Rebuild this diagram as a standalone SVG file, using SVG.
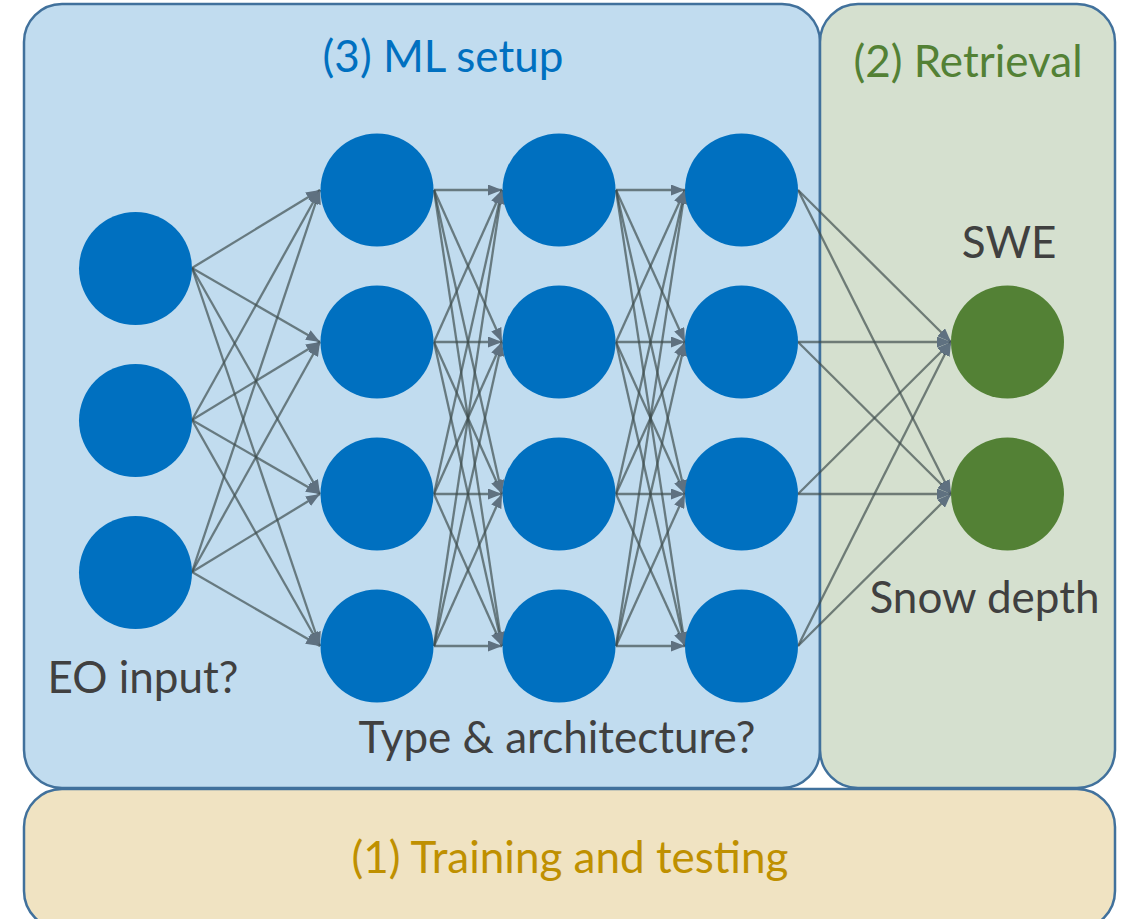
<svg xmlns="http://www.w3.org/2000/svg" width="1128" height="919" viewBox="0 0 1128 919">
<defs>
<style>
.box{stroke:#41719C;stroke-width:2.5}
.t{font-family:Lato,"Open Sans","Liberation Sans",sans-serif;font-size:44px;text-anchor:middle}
.dark{fill:#404040}
.nb{fill:#0070C0}
.ng{fill:#538135}
#connectors line{stroke:#3C4B4B;stroke-opacity:0.68;stroke-width:2.3;marker-end:url(#arr)}
</style>
<marker id="arr" markerWidth="14" markerHeight="11" refX="14" refY="5.5" orient="auto" markerUnits="userSpaceOnUse">
<path d="M0,0 L14,5.5 L0,11 z" fill="#5F7180"/>
</marker>
</defs>
<rect width="1128" height="919" fill="#ffffff"/>
<g id="box-training"><rect class="box" x="24" y="789" width="1091" height="140" rx="38" fill="#F0E3C2"/>
<text class="t" x="570" y="873" fill="#BF9000">(1) Training and testing</text></g>
<g id="box-ml"><rect class="box" x="24" y="4" width="796" height="784" rx="38" fill="#C1DCEF"/>
<text class="t nb" x="443" y="72">(3) ML setup</text></g>
<g id="box-retrieval"><rect class="box" x="820" y="4" width="295" height="784" rx="38" fill="#D5E0CF"/>
<text class="t ng" x="968" y="77">(2) Retrieval</text></g>
<g id="connectors">
<line x1="192" y1="268" x2="320" y2="190"/><line x1="192" y1="268" x2="320" y2="342"/><line x1="192" y1="268" x2="320" y2="494"/><line x1="192" y1="268" x2="320" y2="646"/>
<line x1="192" y1="420" x2="320" y2="190"/><line x1="192" y1="420" x2="320" y2="342"/><line x1="192" y1="420" x2="320" y2="494"/><line x1="192" y1="420" x2="320" y2="646"/>
<line x1="192" y1="572" x2="320" y2="190"/><line x1="192" y1="572" x2="320" y2="342"/><line x1="192" y1="572" x2="320" y2="494"/><line x1="192" y1="572" x2="320" y2="646"/>
<line x1="434" y1="190" x2="502" y2="190"/><line x1="434" y1="190" x2="502" y2="342"/><line x1="434" y1="190" x2="502" y2="494"/><line x1="434" y1="190" x2="502" y2="646"/>
<line x1="434" y1="342" x2="502" y2="190"/><line x1="434" y1="342" x2="502" y2="342"/><line x1="434" y1="342" x2="502" y2="494"/><line x1="434" y1="342" x2="502" y2="646"/>
<line x1="434" y1="494" x2="502" y2="190"/><line x1="434" y1="494" x2="502" y2="342"/><line x1="434" y1="494" x2="502" y2="494"/><line x1="434" y1="494" x2="502" y2="646"/>
<line x1="434" y1="646" x2="502" y2="190"/><line x1="434" y1="646" x2="502" y2="342"/><line x1="434" y1="646" x2="502" y2="494"/><line x1="434" y1="646" x2="502" y2="646"/>
<line x1="616" y1="190" x2="685" y2="190"/><line x1="616" y1="190" x2="685" y2="342"/><line x1="616" y1="190" x2="685" y2="494"/><line x1="616" y1="190" x2="685" y2="646"/>
<line x1="616" y1="342" x2="685" y2="190"/><line x1="616" y1="342" x2="685" y2="342"/><line x1="616" y1="342" x2="685" y2="494"/><line x1="616" y1="342" x2="685" y2="646"/>
<line x1="616" y1="494" x2="685" y2="190"/><line x1="616" y1="494" x2="685" y2="342"/><line x1="616" y1="494" x2="685" y2="494"/><line x1="616" y1="494" x2="685" y2="646"/>
<line x1="616" y1="646" x2="685" y2="190"/><line x1="616" y1="646" x2="685" y2="342"/><line x1="616" y1="646" x2="685" y2="494"/><line x1="616" y1="646" x2="685" y2="646"/>
<line x1="798" y1="190" x2="951" y2="342"/><line x1="798" y1="190" x2="951" y2="494"/>
<line x1="798" y1="342" x2="951" y2="342"/><line x1="798" y1="342" x2="951" y2="494"/>
<line x1="798" y1="494" x2="951" y2="342"/><line x1="798" y1="494" x2="951" y2="494"/>
<line x1="798" y1="646" x2="951" y2="342"/><line x1="798" y1="646" x2="951" y2="494"/>
</g>
<g id="input-layer">
<circle class="nb" cx="135.5" cy="268.5" r="56.5"/>
<circle class="nb" cx="135.5" cy="420.5" r="56.5"/>
<circle class="nb" cx="135.5" cy="572.5" r="56.5"/>
<text class="t dark" x="143" y="693">EO input?</text>
</g>
<g id="hidden-layer-1">
<circle class="nb" cx="377" cy="190" r="56.5"/>
<circle class="nb" cx="377" cy="342" r="56.5"/>
<circle class="nb" cx="377" cy="494" r="56.5"/>
<circle class="nb" cx="377" cy="646" r="56.5"/>
</g>
<g id="hidden-layer-2">
<circle class="nb" cx="559" cy="190" r="56.5"/>
<circle class="nb" cx="559" cy="342" r="56.5"/>
<circle class="nb" cx="559" cy="494" r="56.5"/>
<circle class="nb" cx="559" cy="646" r="56.5"/>
<text class="t dark" x="557" y="753">Type &amp; architecture?</text>
</g>
<g id="hidden-layer-3">
<circle class="nb" cx="741.5" cy="190" r="56.5"/>
<circle class="nb" cx="741.5" cy="342" r="56.5"/>
<circle class="nb" cx="741.5" cy="494" r="56.5"/>
<circle class="nb" cx="741.5" cy="646" r="56.5"/>
</g>
<g id="output-swe">
<circle class="ng" cx="1007.5" cy="342" r="56.5"/>
<text class="t dark" x="1009" y="258">SWE</text>
</g>
<g id="output-snow-depth">
<circle class="ng" cx="1007.5" cy="494" r="56.5"/>
<text class="t dark" x="984.5" y="613">Snow depth</text>
</g>
</svg>
